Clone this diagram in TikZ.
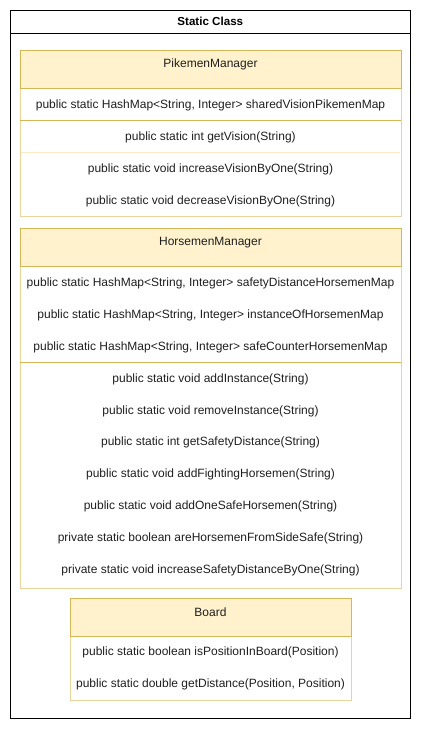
\documentclass[tikz,border=0pt]{standalone}
\usepackage{fontspec}
\setmainfont{Liberation Sans}
\begin{document}
\begin{tikzpicture}[x=1pt,y=-1pt,
  hdr/.style={draw=hdrline,fill=hdrfill,line width=0.8pt,anchor=north west,inner sep=0pt},
  body/.style={draw=rowline,line width=0.8pt,anchor=north west,inner sep=0pt},
  sep/.style={draw=hdrline,line width=0.8pt},
  lsep/.style={draw=faint,line width=0.8pt},
  txt/.style={font=\fontsize{12}{14}\selectfont,text=black!88,inner sep=0pt,yshift=-0.7pt},
  title/.style={font=\bfseries\fontsize{11.6}{13}\selectfont,inner sep=0pt}]
\definecolor{hdrfill}{HTML}{FFF2CC}
\definecolor{hdrline}{HTML}{D6B656}
\definecolor{rowline}{HTML}{EAD49C}
\definecolor{faint}{HTML}{FAEBC6}
\useasboundingbox (0,0) rectangle (422,729);
% outer frame
\node[draw=black,line width=1pt,anchor=north west,minimum width=400pt,minimum height=708pt,inner sep=0pt] (outer) at (10.3,10.3) {};
\draw[line width=1pt] (10.3,33.3) coordinate (ohl) -- (410.3,33.3) coordinate (ohr);
\node[title] (ttl) at (210.3,21.8) {Static Class};

% ---------- PikemenManager ----------
\node[body,minimum width=380.4pt,minimum height=166pt] (pbody) at (20.3,50.3) {};
\node[hdr,minimum width=380.4pt,minimum height=38pt] (phdr) at (20.3,50.3) {};
\node[txt] (pname) at (210.5,63.5) {PikemenManager};
\draw[sep] (20.3,120.3) coordinate (ps1) -- (400.7,120.3) coordinate (ps2);
\draw[lsep] (20.8,152.3) coordinate (pl1) -- (400.2,152.3) coordinate (pl2);
\node[txt] (pf1) at (210.5,104.3) {public static HashMap<String, Integer> sharedVisionPikemenMap};
\node[txt] (pm1) at (210.5,136.3) {public static int getVision(String)};
\node[txt] (pm2) at (210.5,168.3) {public static void increaseVisionByOne(String)};
\node[txt] (pm3) at (210.5,200.3) {public static void decreaseVisionByOne(String)};

% ---------- HorsemenManager ----------
\node[body,minimum width=380.4pt,minimum height=360pt] (hbody) at (20.3,228.3) {};
\node[hdr,minimum width=380.4pt,minimum height=38pt] (hhdr) at (20.3,228.3) {};
\node[txt] (hname) at (210.5,242) {HorsemenManager};
\draw[sep] (20.3,362.3) coordinate (hs1) -- (400.7,362.3) coordinate (hs2);
\node[txt] (hf1) at (210.5,282.3) {public static HashMap<String, Integer> safetyDistanceHorsemenMap};
\node[txt] (hf2) at (210.5,314.3) {public static HashMap<String, Integer> instanceOfHorsemenMap};
\node[txt] (hf3) at (210.5,346.3) {public static HashMap<String, Integer> safeCounterHorsemenMap};
\node[txt] (hm1) at (210.5,378.3) {public static void addInstance(String)};
\node[txt] (hm2) at (210.5,410.3) {public static void removeInstance(String)};
\node[txt] (hm3) at (210.5,441.8) {public static int getSafetyDistance(String)};
\node[txt] (hm4) at (210.5,473.8) {public static void addFightingHorsemen(String)};
\node[txt] (hm5) at (210.5,505.8) {public static void addOneSafeHorsemen(String)};
\node[txt] (hm6) at (210.5,537.8) {private static boolean areHorsemenFromSideSafe(String)};
\node[txt] (hm7) at (210.5,569.8) {private static void increaseSafetyDistanceByOne(String)};

% ---------- Board ----------
\node[body,minimum width=280.4pt,minimum height=102pt] (bbody) at (70.3,598.3) {};
\node[hdr,minimum width=280.4pt,minimum height=38pt] (bhdr) at (70.3,598.3) {};
\node[txt] (bname) at (210.5,611.8) {Board};
\node[txt] (bm1) at (210.5,652) {public static boolean isPositionInBoard(Position)};
\node[txt] (bm2) at (210.5,684) {public static double getDistance(Position, Position)};
\end{tikzpicture}
\end{document}
